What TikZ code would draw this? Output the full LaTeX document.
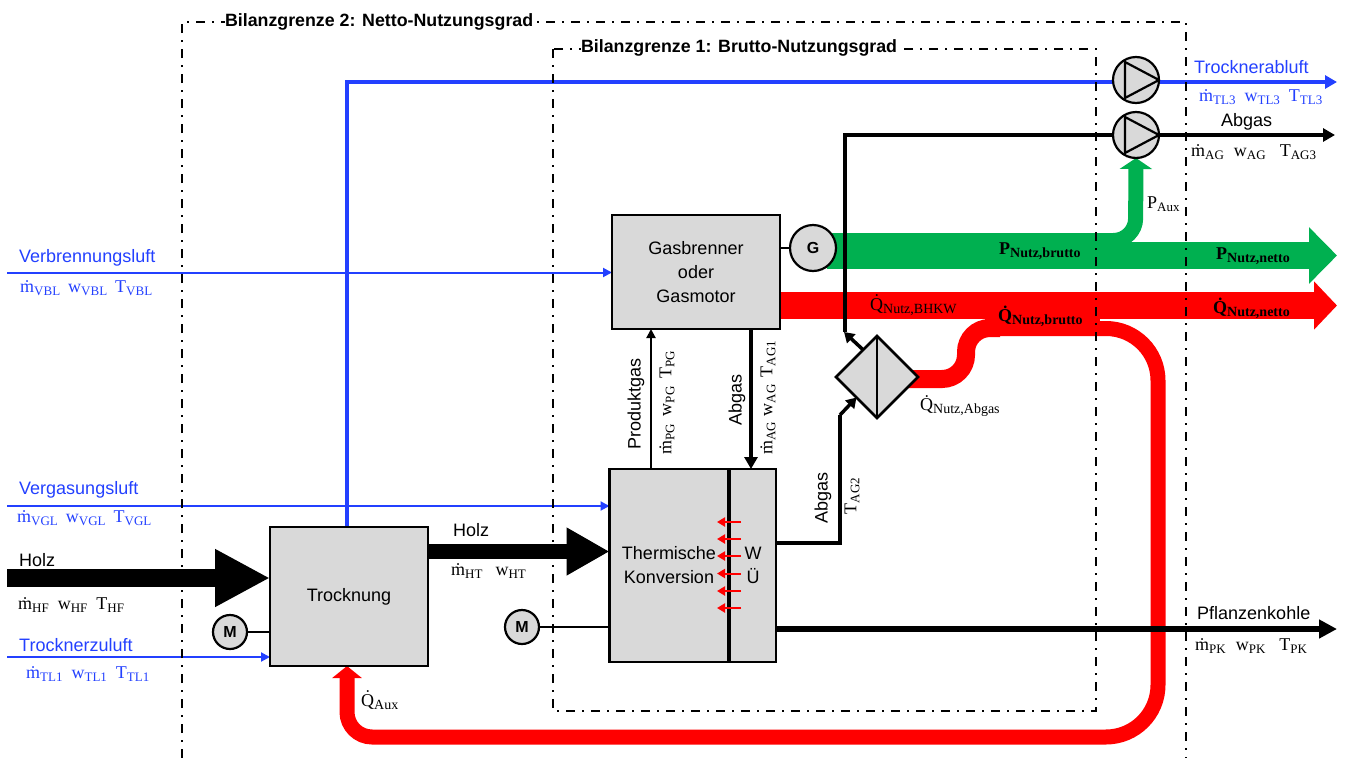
\documentclass[tikz,border=0pt]{standalone}
\usepackage{fontspec}
\setmainfont{Liberation Sans}
\newfontfamily\formel{Liberation Serif}
\usepackage{xcolor}
\usepackage{tikz}
\usetikzlibrary{arrows.meta, positioning, shapes.geometric, backgrounds}

\definecolor{luftblau}{HTML}{2340FF}
\definecolor{nutzgruen}{HTML}{00B050}
\definecolor{boxgrau}{HTML}{D9D9D9}

\newcommand{\tief}[1]{\raisebox{-3pt}{\fontsize{13}{15}\selectfont #1}}
\newcommand{\tiefb}[1]{\raisebox{-3pt}{\fontsize{14}{15}\selectfont #1}}
\newcommand{\mflow}[1]{\.{m}\tief{#1}}
\newcommand{\wflow}[1]{w\tief{#1}}
\newcommand{\Tflow}[1]{T\tief{#1}}
\newcommand{\Qflow}[1]{\.{Q}\tiefb{#1}}
\newcommand{\Qbold}[1]{\textbf{\.{Q}\tiefb{#1}}}
\newcommand{\Pbold}[1]{\textbf{P\tiefb{#1}}}

\begin{document}
\begin{tikzpicture}[
  x=1pt, y=-1pt,
  node distance=10pt,
  box/.style={draw, fill=boxgrau, line width=2.5pt, align=center, outer sep=0pt, inner sep=0pt,
    font=\fontsize{18}{24}\selectfont},
  rund/.style={circle, draw, fill=boxgrau, line width=2.2pt, outer sep=0pt, inner sep=0pt, minimum size=34pt,
    font=\fontsize{16}{18}\selectfont\bfseries},
  pumpe/.style={circle, draw, fill=boxgrau, line width=2.2pt, outer sep=0pt, inner sep=0pt, minimum size=46pt},
  bez/.style={font=\fontsize{18}{20}\selectfont, anchor=west, inner sep=0pt},
  werte/.style={font=\fontsize{18}{20}\selectfont\formel, anchor=west, inner sep=0pt},
  titel/.style={font=\fontsize{17.8}{20}\selectfont\bfseries, fill=white, inner sep=0pt, outer sep=7pt},
  grenze/.style={line width=2pt, dash pattern=on 9pt off 7pt on 2pt off 7pt},
  arrdick/.style={-{Triangle[length=12pt, width=13pt]}, line width=3.5pt},
  arrduenn/.style={-{Triangle[length=9pt, width=9pt]}, line width=2pt},
  band/.style={line width=27pt},
  heiz/.style={-{Triangle[length=8pt, width=9pt]}, line width=2pt, red}
]
\useasboundingbox (0,0) rectangle (1345,758);

% Apparate
\node[box, minimum width=158pt, minimum height=139pt] (troc) at (349,596.5) {Trocknung};
\node[box, minimum width=168pt, minimum height=114pt] (gas) at (696,272) {Gasbrenner\\oder\\Gasmotor};
\node[box, minimum width=119pt, minimum height=193pt] (therm) at (669,565.5) {Thermische\\Konversion};
\node[box, minimum width=46pt, minimum height=193pt, right=1.5pt of therm] (wue) {W\\Ü};
\node[diamond, draw, fill=boxgrau, line width=2.5pt, aspect=1, inner sep=0pt, outer sep=0pt,
  minimum width=82pt, minimum height=82pt] (hx) at (877,377) {};
\draw[line width=2pt] (hx.north) -- (hx.south);

\node[rund, minimum size=46pt] (gen) at (813,248) {G};
\node[rund] (mtroc) at (230,632) {M};
\node[rund] (mtherm) at (522,627) {M};
\node[pumpe] (pumpa) at (1136,80) {};
\node[pumpe] (pumpb) at (1136,135) {};
\foreach \p in {pumpa,pumpb}
  \draw[line width=2.2pt, line join=round] ([shift={(-11,-18)}]\p.center) -- (\p.east) -- ([shift={(-11,18)}]\p.center) -- cycle;

% freie Enden
\coordinate (vblein) at (7,272.5);
\coordinate (vglein) at (7,506);
\coordinate (holzein) at (7,578);
\coordinate (tl1ein) at (7,657);
\coordinate (tl3aus) at (1337,82);
\coordinate (agaus) at (1335,135);
\coordinate (pkaus) at (1337,629);
\coordinate (pnetto) at (1337,255.5);
\coordinate (qnetto) at (1337,305.5);
\coordinate (ht) at (500,551.5);
\coordinate (agknick) at (840,415);
\coordinate (agecke) at (844,332);

\begin{pgfonlayer}{background}
% Leistung und Waerme
\draw[nutzgruen, band, -{Triangle[length=28pt, width=55pt]}] (827,255.5) -- (pnetto);
\draw[nutzgruen, line width=15pt, -{Triangle[length=11pt, width=32pt]}, rounded corners=22pt]
  (827,240.5) -- (1135.5,240.5) -- (pumpb.south);
\draw[red, band, -{Triangle[length=23pt, width=47pt]}] (gas.east |- qnetto) -- (qnetto);
\fill[red] (985,315) rectangle (1100,336);
\draw[red, line width=18pt, rounded corners=24pt] (hx.center |- 0,379) -- (966,379) -- (966,328) -- (1000,328);
\draw[red, line width=15pt, -{Triangle[length=12pt, width=29pt]}, rounded corners=52pt]
  (1000,328.5) -- (1158,328.5) -- (1158,737) [rounded corners=25pt] -- (347,737) -- ([xshift=-2pt]troc.south);

% Stoffstroeme
\draw[luftblau, arrdick] ([xshift=-2pt]troc.north) |- (tl3aus);
\draw[luftblau, arrduenn] (vblein) -- (gas.west |- vblein);
\draw[luftblau, arrduenn] (vglein) -- (therm.west |- vglein);
\draw[luftblau, arrduenn] (tl1ein) -- (troc.west |- tl1ein);
\draw[line width=18pt, -{Triangle[length=55pt, width=54pt]}] (holzein) -- (troc.west |- holzein);
\draw[line width=15pt, -{Triangle[length=43pt, width=45pt]}] (troc.east |- ht) -- (therm.west |- ht);
\draw[arrduenn] ([xshift=-45pt]gas.south |- therm.north) -- ([xshift=-45pt]gas.south);
\draw[arrdick, line width=4pt] ([xshift=55pt]gas.south) -- ([xshift=55pt]gas.south |- therm.north);
\draw[line width=3.5pt] (wue.east |- 0,543) -| (agknick);
\draw[arrdick, -{Triangle[length=10pt, width=12pt]}] (agknick) -- (hx.south west);
\draw[arrdick, -{Triangle[length=10pt, width=12pt]}] (hx.117) -- (agecke);
\draw[line width=3.5pt] (845,332) |- (pumpb);
\draw[arrdick] (pumpb) -- (agaus);
\draw[line width=6pt, -{Triangle[length=18pt, width=18pt]}] (wue.east |- pkaus) -- (pkaus);

% Bilanzgrenzen
\draw[grenze] (182,758) -- (182,22) -- (1186,22) -- (1186,758);
\draw[grenze] (553,49) rectangle (1096,711);
\end{pgfonlayer}

\node[titel, anchor=west] (bg2) at (218,22) {Bilanzgrenze 2: Netto-Nutzungsgrad};
\node[titel, anchor=west] (bg1) at (574,48) {Bilanzgrenze 1: Brutto-Nutzungsgrad};

\draw[line width=2pt] (gas.east |- gen) -- (gen);
\draw[line width=2pt] (mtroc) -- (troc.west |- mtroc);
\draw[line width=2pt] (mtherm) -- (therm.west |- mtherm);
\foreach \y [count=\i] in {522,539,556,573.5,591,608} {
  \coordinate (hvon\i) at (741,\y);
  \coordinate (hbis\i) at (717,\y);
  \draw[heiz] (hvon\i) -- (hbis\i);
}

% Eintritt
\node[bez, text=luftblau] (vbl) at (19,258) {Verbrennungsluft};
\node[werte, text=luftblau] (vblw) at (20,288) {\mflow{VBL}\hspace{8pt}\wflow{VBL}\hspace{8pt}\Tflow{VBL}};
\node[bez, text=luftblau] (vgl) at (19,490) {Vergasungsluft};
\node[werte, text=luftblau] (vglw) at (17,518) {\mflow{VGL}\hspace{8pt}\wflow{VGL}\hspace{8pt}\Tflow{VGL}};
\node[bez] (hf) at (19,560) {Holz};
\node[werte] (hfw) at (18,605) {\mflow{HF}\hspace{9pt}\wflow{HF}\hspace{9pt}\Tflow{HF}};
\node[bez, text=luftblau] (tl1) at (19,645) {Trocknerzuluft};
\node[werte, text=luftblau] (tl1w) at (26,674) {\mflow{TL1}\hspace{9pt}\wflow{TL1}\hspace{9pt}\Tflow{TL1}};
\node[bez] (hh) at (453,530) {Holz};
\node[werte] (hhw) at (451,571) {\mflow{HT}\hspace{13pt}\wflow{HT}};

% Austritt
\node[bez, text=luftblau] (tl3) at (1194,67) {Trocknerabluft};
\node[werte, text=luftblau] (tl3w) at (1199,97) {\mflow{TL3}\hspace{9pt}\wflow{TL3}\hspace{9pt}\Tflow{TL3}};
\node[bez] (ag) at (1221,122) {Abgas};
\node[werte] (agw) at (1191,152) {\mflow{AG}\hspace{10pt}\wflow{AG}\hspace{14pt}\Tflow{AG3}};
\node[bez] (pk) at (1197,613) {Pflanzenkohle};
\node[werte] (pkw) at (1195,646) {\mflow{PK}\hspace{10pt}\wflow{PK}\hspace{14pt}\Tflow{PK}};

% Schnitte im Bild
\node[bez, rotate=90, anchor=center] (prod) at (636,404) {Produktgas};
\node[werte, rotate=90, anchor=west] (prodw) at (667,455) {\mflow{PG}\hspace{8pt}\wflow{PG}\hspace{8pt}\Tflow{PG}};
\node[bez, rotate=90, anchor=center] (ag1) at (737,400) {Abgas};
\node[werte, rotate=90, anchor=west] (ag1w) at (768,455) {\mflow{AG}\hspace{6pt}\wflow{AG}\hspace{7pt}\Tflow{AG1}};
\node[bez, rotate=90, anchor=center] (ag2) at (823,498) {Abgas};
\node[werte, rotate=90, anchor=center] (ag2w) at (852,496) {\Tflow{AG2}};

% Leistungen
\node[werte] (paux) at (1147,204) {P\tief{Aux}};
\node[werte] (pbr) at (999,251) {\Pbold{Nutz,brutto}};
\node[werte] (pne) at (1216,256) {\Pbold{Nutz,netto}};
\node[werte] (qb) at (870,305) {\Qflow{Nutz,BHKW}};
\node[werte] (qbr) at (998,316) {\Qbold{Nutz,brutto}};
\node[werte] (qne) at (1213,308) {\Qbold{Nutz,netto}};
\node[werte] (qab) at (920,406) {\Qflow{Nutz,Abgas}};
\node[werte] (qau) at (361,700) {\Qflow{Aux}};
\end{tikzpicture}
\end{document}
